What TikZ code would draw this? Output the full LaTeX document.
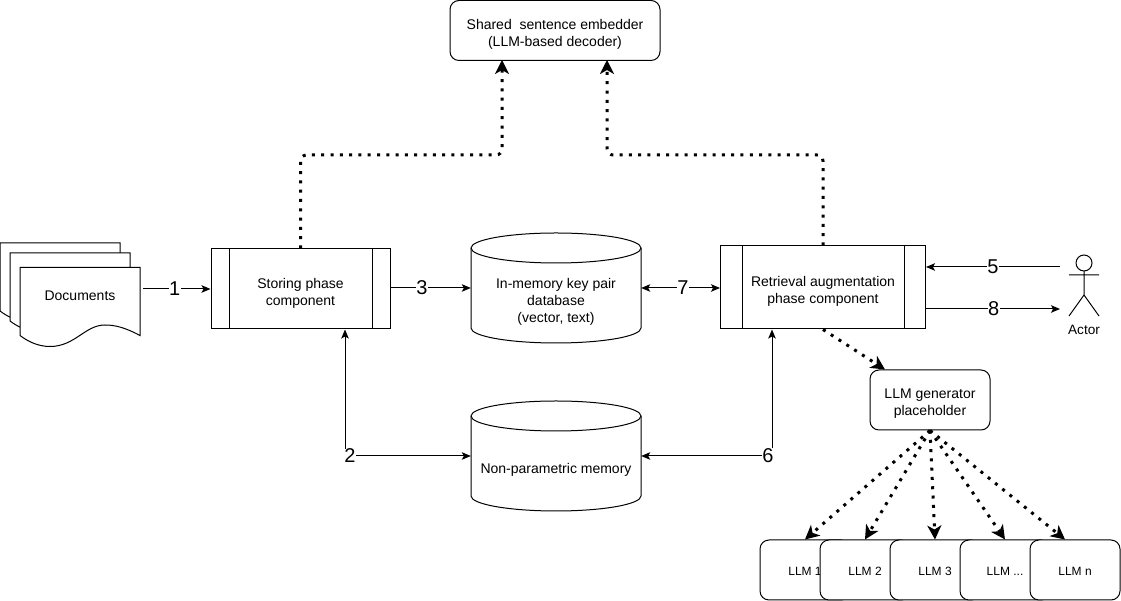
\documentclass[tikz,border=0pt]{standalone}
\usepackage{xcolor}
\usepackage{fontspec}
\setmainfont{Liberation Sans}
\usetikzlibrary{arrows.meta}
\newcommand{\lowr}[1]{\rule{0pt}{#1}}
\tikzset{
  txt/.style={font=\fontsize{14}{17}\selectfont, align=center, inner sep=0pt},
  roundbox/.style={txt, draw, rounded corners=9pt, fill=white, line width=1pt},
  llmbox/.style={roundbox, font=\fontsize{12}{14}\selectfont, minimum width=90pt, minimum height=60pt},
  phasebox/.style={txt, draw, fill=white, line width=1pt, minimum height=80pt, path picture={
      \draw[line width=1pt] ([xshift=#1]path picture bounding box.north west) -- ([xshift=#1]path picture bounding box.south west);
      \draw[line width=1pt] ([xshift=-#1]path picture bounding box.north east) -- ([xshift=-#1]path picture bounding box.south east);}},
  dbase/.style={txt, minimum width=171pt, minimum height=111pt, path picture={
      \draw[line width=1pt] ([yshift=40pt]path picture bounding box.center) ellipse (85pt and 15pt);
      \draw[line width=1pt] ([shift={(-85pt,40pt)}]path picture bounding box.center) -- ([shift={(-85pt,-40pt)}]path picture bounding box.center)
        arc[start angle=180, end angle=360, x radius=85pt, y radius=15pt] -- ([shift={(85pt,40pt)}]path picture bounding box.center);}},
  flow/.style={-{Stealth[length=9pt,width=7.5pt,inset=2pt]}, line width=1pt},
  biflow/.style={{Stealth[length=9pt,width=7.5pt,inset=2pt]}-{Stealth[length=9pt,width=7.5pt,inset=2pt]}, line width=1pt},
  dots/.style={-{Stealth[length=14pt,width=14pt,inset=4pt]}, line width=3pt, dash pattern=on 3pt off 6.3pt},
  num/.style={font=\fontsize{20}{20}\selectfont, fill=white, inner sep=0.5pt}
}

\begin{document}
\begin{tikzpicture}[x=1pt, y=1pt, node distance=100pt]
      \useasboundingbox (0,0) rectangle (1121,601);

      % Documents
      \foreach \px/\py in {0/358, 10/348, 20/333.5} {
        \draw[shift={(\px,\py)}, fill=white, line width=1pt] (0,0) -- (120,0) -- (120,-68)
          .. controls (105,-60) and (95,-57.5) .. (85,-57.5)
          .. controls (65,-57.5) and (55,-79) .. (30,-79)
          .. controls (18,-79) and (8,-74) .. (0,-68) -- cycle;
      }
      \node[txt] (docs) at (80,305) {Documents};
      \coordinate (docsout) at (143,312);

      % Nodes
      \node[roundbox, minimum width=210pt, minimum height=60pt] (shared) at (555,570.5) {\lowr{18pt}Shared~ sentence embedder\\(LLM-based decoder)};
      \node[phasebox=18pt, minimum width=179pt] (storing) at (300.5,312) {\lowr{18pt}Storing phase\\component};
      \node[dbase, right of=storing, xshift=155.5pt, yshift=1pt] (keypair) {\lowr{37pt}In-memory key pair\\database\\(vector, text)};
      \node[phasebox=21.5pt, minimum width=205pt, minimum height=83pt, right of=keypair, xshift=167pt, yshift=0.5pt] (retrieval) {\lowr{18pt}Retrieval augmentation\\phase component};
      \node[dbase, below of=keypair, yshift=-68pt] (nonparam) {\lowr{37pt}Non-parametric memory};
      \node[roundbox, minimum width=120pt, minimum height=60pt, below of=retrieval, xshift=107pt, yshift=-12.5pt] (generator) {\lowr{16pt}LLM generator\\placeholder};

      % LLM pool
      \node[llmbox] (llma) at (805,31) {\lowr{12pt}LLM 1};
      \node[llmbox, right of=llma, xshift=-40pt] (llmb) {\lowr{12pt}LLM 2};
      \node[llmbox, right of=llmb, xshift=-30pt] (llmc) {\lowr{12pt}LLM 3};
      \node[llmbox, right of=llmc, xshift=-30pt] (llmd) {\lowr{12pt}LLM ...};
      \node[llmbox, right of=llmd, xshift=-30pt] (llmn) {\lowr{12pt}LLM n};

      % Actor
      \node[txt, font=\fontsize{13.6}{17}\selectfont] (actor) at (1084,271) {Actor};
      \coordinate (actorin) at (1060,334);
      \coordinate (actorout) at (1060,292);
      \draw[line width=1pt] (1084,338) circle (8pt);
      \draw[line width=1pt] (1084,330) -- (1084,306) (1069,326) -- (1099,326) (1069,285) -- (1084,306) -- (1099,285);

      % Arrows and labels
      \draw[flow] (docsout) -- (docsout -| storing.west) node[num, pos=0.47] {1};
      \draw[flow] (storing.east |- keypair.west) -- ([xshift=0.5pt]keypair.west) node[num, pos=0.39] {3};
      \draw[biflow] ([xshift=-0.5pt]keypair.east) -- (keypair.east -| retrieval.west) node[num, pos=0.53] {7};
      \draw[flow] (actorin) -- (actorin -| retrieval.east) node[num, midway] {5};
      \draw[flow] (actorout -| retrieval.east) -- (actorout) node[num, pos=0.505] {8};
      \draw[biflow] ([xshift=0.5pt]nonparam.west) -| ([xshift=44.5pt]storing.south) node[num, pos=0.5, xshift=5pt] {2};
      \draw[biflow] ([xshift=-0.5pt]nonparam.east) -| ([xshift=-51pt]retrieval.south) node[num, pos=0.5, xshift=-4pt] {6};

      % Dotted links
      \draw[dots, rounded corners=6pt] (storing.north) |- (502,446) -- (502,541);
      \draw[dots, rounded corners=6pt] (retrieval.north) |- (607,446) -- (607,541);
      \draw[dots] (retrieval.south) -- ([xshift=-45pt]generator.north);
      \draw[dots] (generator.south) -- (llma.north);
      \draw[dots] (generator.south) -- (llmb.north);
      \draw[dots] (generator.south) -- (llmc.north);
      \draw[dots] (generator.south) -- (llmd.north);
      \draw[dots] (generator.south) -- ([xshift=-10pt]llmn.north);
\end{tikzpicture}
\end{document}
